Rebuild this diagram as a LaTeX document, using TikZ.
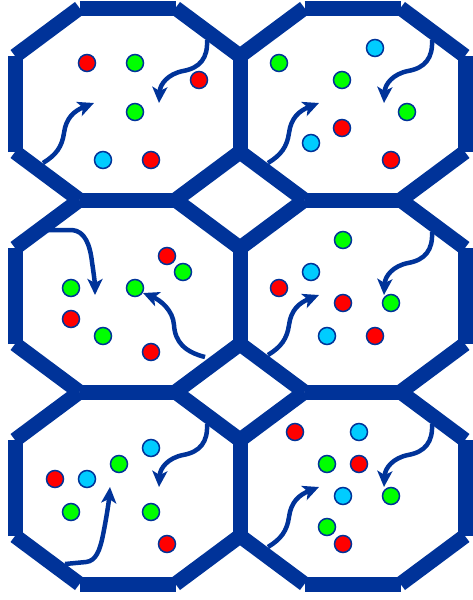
\documentclass[tikz,border=0pt]{standalone}
\usetikzlibrary{arrows.meta}
\definecolor{cblue}{RGB}{0,51,153}
\definecolor{cred}{RGB}{255,0,0}
\definecolor{cgreen}{RGB}{0,255,0}
\definecolor{ccyan}{RGB}{0,204,255}
\tikzset{
  wall/.style={draw=cblue, line width=15pt, line cap=butt},
  dot/.style={circle, draw=cblue, line width=1.5pt, minimum size=17pt, inner sep=0pt},
  rdot/.style={dot, fill=cred},
  gdot/.style={dot, fill=cgreen},
  cdot/.style={dot, fill=ccyan},
  arr/.style={draw=cblue, line width=4.5pt, -{Stealth[length=16pt,width=15pt,inset=4pt]}}
}
\begin{document}
\begin{tikzpicture}[x=1pt,y=-1pt]
\useasboundingbox (0,0) rectangle (472,600);
% octagon walls
\foreach \cx/\cy [count=\i] in {127.5/104, 352.5/104, 127.5/296, 352.5/296, 127.5/488, 352.5/488}{
  \coordinate (A\i) at (\cx-48,\cy-96);
  \coordinate (B\i) at (\cx+48,\cy-96);
  \coordinate (C\i) at (\cx+112.5,\cy-48);
  \coordinate (D\i) at (\cx+112.5,\cy+48);
  \coordinate (E\i) at (\cx+48,\cy+96);
  \coordinate (F\i) at (\cx-48,\cy+96);
  \coordinate (G\i) at (\cx-112.5,\cy+48);
  \coordinate (H\i) at (\cx-112.5,\cy-48);
  \draw[wall] (A\i) -- (B\i);
  \draw[wall] (B\i) -- (C\i);
  \draw[wall] (C\i) -- (D\i);
  \draw[wall] (D\i) -- (E\i);
  \draw[wall] (E\i) -- (F\i);
  \draw[wall] (F\i) -- (G\i);
  \draw[wall] (G\i) -- (H\i);
  \draw[wall] (H\i) -- (A\i);
}
% S-shaped arrows from lower-left wall
\foreach \dx/\dy [count=\k] in {0/0, 225/0, 225/192, 225/384}{
  \begin{scope}[shift={(\dx,\dy)}]
    \coordinate (ls\k) at (43,163);
    \coordinate (le\k) at (94,103);
    \draw[arr] (ls\k) .. controls (56,155) and (62,147) .. (64,133)
      .. controls (66,118) and (74,111) .. (le\k);
  \end{scope}
}
% arrows from upper-right wall
\foreach \dx/\dy [count=\k] in {0/0, 225/0, 225/192, 225/384, 0/384}{
  \begin{scope}[shift={(\dx,\dy)}]
    \coordinate (rs\k) at (207,40);
    \coordinate (re\k) at (159,103);
    \draw[arr] (rs\k) .. controls (208,58) and (200,68) .. (183,71)
      .. controls (168,74) and (160,84) .. (re\k);
  \end{scope}
}
% special arrows
\coordinate (m1s) at (47,230);
\coordinate (m1e) at (95,295);
\draw[arr] (m1s) -- (72,230) .. controls (85,231) and (90,245) .. (92,262)
  .. controls (94,275) and (95,285) .. (m1e);
\coordinate (m2s) at (205,357);
\coordinate (m2e) at (143,293);
\draw[arr] (m2s) .. controls (185,352) and (175,342) .. (174,325)
  .. controls (173,310) and (160,300) .. (m2e);
\coordinate (b1s) at (65,564);
\coordinate (b1e) at (110,487);
\draw[arr] (b1s) -- (86,562) .. controls (96,561) and (100,550) .. (103,535)
  .. controls (107,515) and (109,500) .. (b1e);
% dots: top-left
\node[rdot] (p1) at (87,63) {};
\node[gdot] (p2) at (135,63) {};
\node[rdot] (p3) at (199,80) {};
\node[gdot] (p4) at (135,112) {};
\node[cdot] (p5) at (103,160) {};
\node[rdot] (p6) at (151,160) {};
% top-right
\node[gdot] (q1) at (279,63) {};
\node[cdot] (q2) at (375,48) {};
\node[gdot] (q3) at (342,80) {};
\node[gdot] (q4) at (407,112) {};
\node[rdot] (q5) at (342,128) {};
\node[cdot] (q6) at (311,143) {};
\node[rdot] (q7) at (391,160) {};
% middle-left
\node[rdot] (r1) at (167,256) {};
\node[gdot] (r2) at (183,272) {};
\node[gdot] (r3) at (71,288) {};
\node[gdot] (r4) at (135,288) {};
\node[rdot] (r5) at (71,319) {};
\node[gdot] (r6) at (103,336) {};
\node[rdot] (r7) at (151,352) {};
% middle-right
\node[gdot] (s1) at (343,240) {};
\node[cdot] (s2) at (311,272) {};
\node[rdot] (s3) at (279,288) {};
\node[rdot] (s4) at (343,303) {};
\node[gdot] (s5) at (391,303) {};
\node[cdot] (s6) at (327,336) {};
\node[rdot] (s7) at (375,336) {};
% bottom-left
\node[cdot] (t1) at (151,448) {};
\node[gdot] (t2) at (119,464) {};
\node[rdot] (t3) at (55,479) {};
\node[cdot] (t4) at (87,479) {};
\node[gdot] (t5) at (71,512) {};
\node[gdot] (t6) at (151,512) {};
\node[rdot] (t7) at (167,544) {};
% bottom-right
\node[rdot] (u1) at (295,432) {};
\node[cdot] (u2) at (359,432) {};
\node[gdot] (u3) at (327,464) {};
\node[rdot] (u4) at (359,464) {};
\node[cdot] (u5) at (343,496) {};
\node[gdot] (u6) at (391,496) {};
\node[gdot] (u7) at (327,527) {};
\node[rdot] (u8) at (343,544) {};
\end{tikzpicture}
\end{document}
